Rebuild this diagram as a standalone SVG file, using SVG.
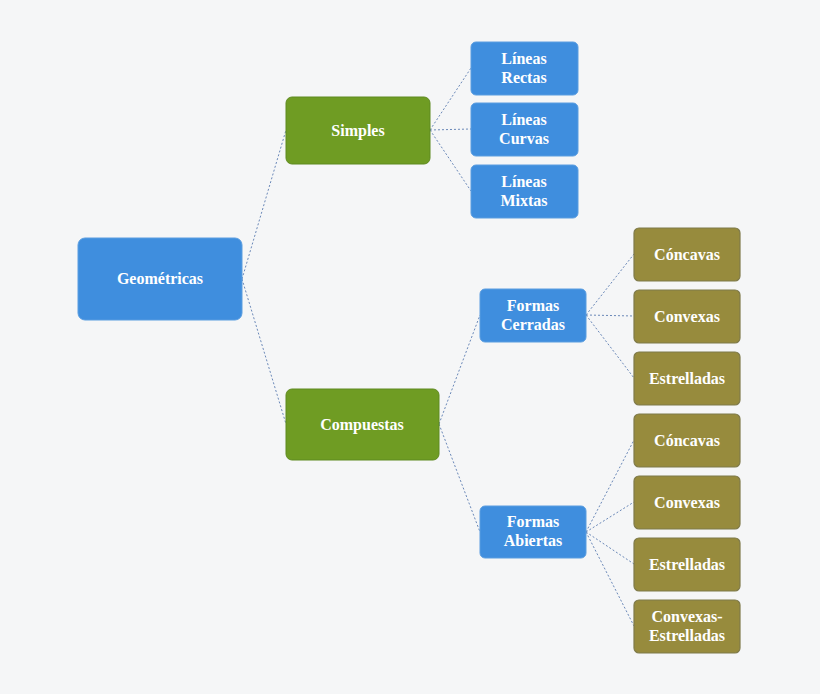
<svg xmlns="http://www.w3.org/2000/svg" width="820" height="694" viewBox="0 0 820 694">
<style>
.b{fill:#3f8ede;stroke:#5a9de0;stroke-width:1}
.g{fill:#6f9c23;stroke:#5f8a20;stroke-width:1}
.o{fill:#978b3d;stroke:#7f7a4a;stroke-width:1.2}
text{font-family:"Liberation Serif","DejaVu Serif",serif;font-weight:bold;font-size:16px;fill:#ffffff;text-anchor:middle}
.c line{stroke:#6a88b8;stroke-width:1;stroke-dasharray:2 2}
</style>
<rect width="820" height="694" fill="#f5f6f7"/>
<g class="c">
<line x1="242" y1="279" x2="286" y2="130"/>
<line x1="242" y1="279" x2="286" y2="424"/>
<line x1="430" y1="130" x2="471" y2="68"/>
<line x1="430" y1="130" x2="471" y2="129"/>
<line x1="430" y1="130" x2="471" y2="191"/>
<line x1="439" y1="424" x2="480" y2="315"/>
<line x1="439" y1="424" x2="480" y2="532"/>
<line x1="586" y1="315" x2="634" y2="254"/>
<line x1="586" y1="315" x2="634" y2="316"/>
<line x1="586" y1="315" x2="634" y2="378"/>
<line x1="586" y1="532" x2="634" y2="440"/>
<line x1="586" y1="532" x2="634" y2="502"/>
<line x1="586" y1="532" x2="634" y2="564"/>
<line x1="586" y1="532" x2="634" y2="626"/>
</g>
<g id="geometricas"><rect class="b" x="78" y="238" width="164" height="82" rx="7"/><text x="160" y="284">Geométricas</text></g>
<g id="simples"><rect class="g" x="286" y="97" width="144" height="67" rx="6"/><text x="358" y="136">Simples</text></g>
<g id="compuestas"><rect class="g" x="286" y="389" width="153" height="71" rx="6"/><text x="362" y="430">Compuestas</text></g>
<g id="rectas"><rect class="b" x="471" y="42" width="107" height="53" rx="5"/><text x="524" y="64">Líneas</text><text x="524" y="83">Rectas</text></g>
<g id="curvas"><rect class="b" x="471" y="103" width="107" height="53" rx="5"/><text x="524" y="125">Líneas</text><text x="524" y="144">Curvas</text></g>
<g id="mixtas"><rect class="b" x="471" y="165" width="107" height="53" rx="5"/><text x="524" y="187">Líneas</text><text x="524" y="206">Mixtas</text></g>
<g id="cerradas"><rect class="b" x="480" y="289" width="106" height="53" rx="5"/><text x="533" y="311">Formas</text><text x="533" y="330">Cerradas</text></g>
<g id="abiertas"><rect class="b" x="480" y="506" width="106" height="52" rx="5"/><text x="533" y="527">Formas</text><text x="533" y="546">Abiertas</text></g>
<g id="c1"><rect class="o" x="634" y="228" width="106" height="53" rx="5"/><text x="687" y="260">Cóncavas</text></g>
<g id="c2"><rect class="o" x="634" y="290" width="106" height="53" rx="5"/><text x="687" y="322">Convexas</text></g>
<g id="c3"><rect class="o" x="634" y="352" width="106" height="53" rx="5"/><text x="687" y="384">Estrelladas</text></g>
<g id="a1"><rect class="o" x="634" y="414" width="106" height="53" rx="5"/><text x="687" y="446">Cóncavas</text></g>
<g id="a2"><rect class="o" x="634" y="476" width="106" height="53" rx="5"/><text x="687" y="508">Convexas</text></g>
<g id="a3"><rect class="o" x="634" y="538" width="106" height="53" rx="5"/><text x="687" y="570">Estrelladas</text></g>
<g id="a4"><rect class="o" x="634" y="600" width="106" height="53" rx="5"/><text x="687" y="622">Convexas-</text><text x="687" y="641">Estrelladas</text></g>
</svg>
